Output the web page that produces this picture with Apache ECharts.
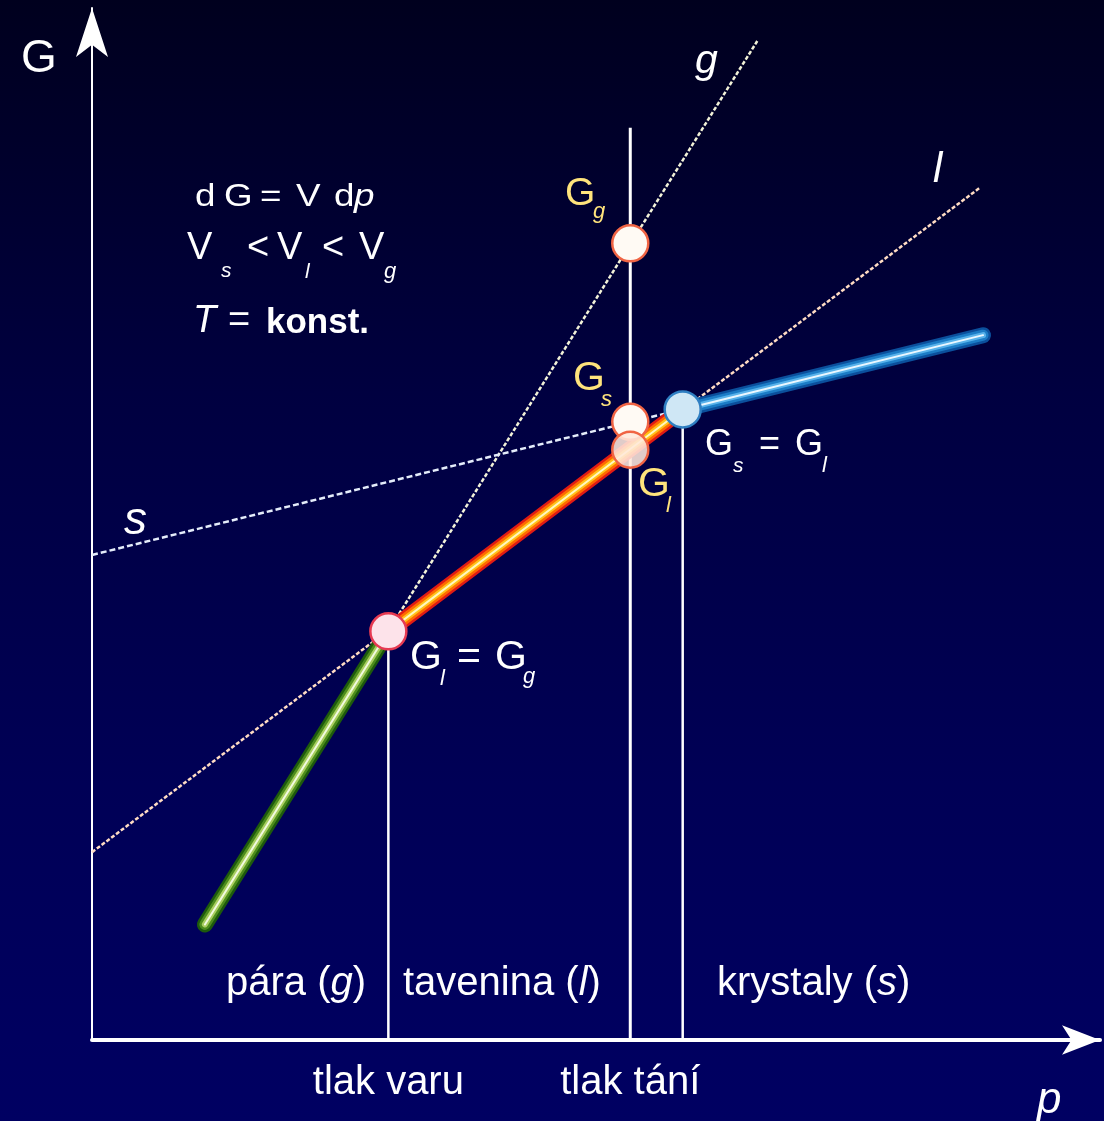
<!DOCTYPE html>
<html>
<head>
<meta charset="utf-8">
<title>G(p) při konstantní teplotě</title>
<script src="https://cdn.jsdelivr.net/npm/echarts@6/dist/echarts.min.js"></script>
<style>
  html, body { margin: 0; padding: 0; background: #000030; }
  #chart { width: 1104px; height: 1121px; }
</style>
</head>
<body>
<div id="chart"></div>
<script>
// Gibbs energy G against pressure p at constant T (arbitrary units, 0..100 on both axes)

// Phase lines G(p): end points [p, G]
const gasG = [[11.2, 11.2], [66.0, 96.8]];
const liquidG = [[0, 18.2], [88.1, 82.6]];
const solidG = [[0, 47.0], [88.4, 68.3]];

// Stable parts of each phase (lowest G)
const gasStable = [[11.2, 11.2], [29.4, 39.6]];
const liquidStable = [[29.4, 39.6], [58.6, 61.1]];
const solidStable = [[58.6, 61.1], [88.4, 68.3]];

// Characteristic pressures and the G values read at them
const boilingP = 29.4;      // tlak varu
const meltingP = 53.4;      // tlak tání
const solidLiquidP = 58.6;  // G_s = G_l
const boilingG = 39.6;      // G_l = G_g
const meltingGg = 77.2;
const meltingGs = 59.9;
const meltingGl = 57.2;
const solidLiquidG = 61.1;
const meltingGuideTop = 88.4;

// Axis tick labels
const pressureMarks = [boilingP, meltingP];
const pressureLabels = ['tlak varu', 'tlak tání'];

const FONT = '"Liberation Sans", Arial, Helvetica, sans-serif';
const WHITE = '#ffffff';
const GOLD = '#ffe47c';

// text piece placed by its left edge and baseline
function txt(x, baseline, text, size, o) {
  o = o || {};
  return {
    type: 'text',
    x: x,
    y: baseline - 0.3465 * size,
    scaleX: o.wide || 1,
    z: 100,
    silent: true,
    style: {
      text: text,
      fill: o.color || WHITE,
      fontSize: size,
      fontFamily: FONT,
      fontStyle: o.italic ? 'italic' : 'normal',
      fontWeight: o.bold ? 'bold' : 'normal',
      align: 'left',
      verticalAlign: 'middle'
    }
  };
}

// region label with an italic phase letter
function regionLabel(x, baseline, before, letter, after) {
  const size = 40;
  const base = { fontSize: size, fontFamily: FONT, fill: WHITE };
  return {
    type: 'text',
    x: x,
    y: baseline - 0.3465 * size,
    z: 100,
    silent: true,
    style: {
      text: '{n|' + before + '}{i|' + letter + '}{n|' + after + '}',
      fontSize: size,
      fontFamily: FONT,
      fill: WHITE,
      align: 'left',
      verticalAlign: 'middle',
      rich: {
        n: Object.assign({}, base),
        i: Object.assign({ fontStyle: 'italic' }, base)
      }
    }
  };
}

const W1 = { wide: 1.15 };
const texts = [
  // axis names
  txt(21, 75, 'G', 46),
  txt(1037, 1116, 'p', 44, { italic: true }),
  // phase line names
  txt(695, 76, 'g', 41, { italic: true }),
  txt(933, 185, 'l', 42, { italic: true }),
  txt(124, 537, 's', 46, { italic: true }),

  // dG = V dp
  txt(195, 208, 'd', 32, W1), txt(224, 208, 'G', 32, W1), txt(260, 208, '=', 32, W1),
  txt(296, 208, 'V', 32, W1), txt(334, 208, 'd', 32, W1),
  txt(354, 208, 'p', 32, { italic: true, wide: 1.15 }),
  // V_s < V_l < V_g
  txt(187, 262, 'V', 38), txt(221, 278, 's', 21, { italic: true }),
  txt(247, 262, '<', 38),
  txt(277, 262, 'V', 38), txt(305, 279, 'l', 21, { italic: true }),
  txt(322, 262, '<', 38),
  txt(359, 262, 'V', 38), txt(384, 279, 'g', 22, { italic: true }),
  // T = konst.
  txt(193, 335, 'T', 38, { italic: true }), txt(228, 335, '=', 38),
  txt(266, 335, 'konst.', 35, { bold: true }),

  // values at the melting pressure
  txt(565, 208, 'G', 39, { color: GOLD }), txt(593, 219, 'g', 22, { color: GOLD, italic: true }),
  txt(573, 393, 'G', 41, { color: GOLD }), txt(601, 407, 's', 22, { color: GOLD, italic: true }),
  txt(638, 499, 'G', 41, { color: GOLD }), txt(666, 513, 'l', 22, { color: GOLD, italic: true }),

  // equilibria
  txt(705, 458, 'G', 36), txt(733, 473, 's', 21, { italic: true }),
  txt(759, 458, '=', 36),
  txt(795, 458, 'G', 36), txt(822, 473, 'l', 22, { italic: true }),

  txt(410, 672, 'G', 41), txt(440, 686, 'l', 22, { italic: true }),
  txt(457, 672, '=', 41),
  txt(495, 672, 'G', 41), txt(523, 684, 'g', 22, { italic: true }),

  // phase regions
  regionLabel(226, 998, 'pára (', 'g', ')'),
  regionLabel(403, 998, 'tavenina (', 'l', ')'),
  regionLabel(717, 998, 'krystaly (', 's', ')')
];

function dotted(data, color, dash, width, z) {
  return {
    type: 'line', data: data, symbol: 'none', silent: true, z: z,
    lineStyle: { color: color, width: width, type: dash }
  };
}

function guide(p, top, width) {
  return {
    type: 'line', data: [[p, 0], [p, top]], symbol: 'none', silent: true, z: 3,
    lineStyle: { color: WHITE, width: width }
  };
}

// thick shaded stroke: several concentric lines, widest first
function glow(data, colors, z) {
  const widths = [16, 11, 6, 2];
  return colors.map(function (c, i) {
    return {
      type: 'line', data: data, symbol: 'none', silent: true, z: z + i,
      lineStyle: { color: c, width: widths[i], cap: 'round' }
    };
  });
}

function marker(points, fill, stroke, z) {
  return {
    type: 'scatter', data: points, symbol: 'circle', symbolSize: 36, silent: true, z: z,
    itemStyle: { color: fill, borderColor: stroke, borderWidth: 2.5, opacity: 1 }
  };
}

const chart = echarts.init(document.getElementById('chart'), null, { renderer: 'canvas' });

const option = {
  animation: false,
  backgroundColor: 'transparent',
  grid: { left: 92, top: 8, right: 4, bottom: 81 },
  xAxis: {
    type: 'value', min: 0, max: 100,
    axisLine: {
      show: true, symbol: ['none', 'arrow'], symbolSize: [22, 38],
      lineStyle: { color: WHITE, width: 4 }
    },
    axisTick: { show: false },
    splitLine: { show: false },
    axisLabel: {
      customValues: pressureMarks,
      formatter: function (v) { return pressureLabels[pressureMarks.indexOf(v)]; },
      color: WHITE, fontSize: 40, fontFamily: FONT, margin: 23
    }
  },
  yAxis: {
    type: 'value', min: 0, max: 100,
    axisLine: {
      show: true, symbol: ['none', 'arrow'], symbolSize: [24, 49],
      lineStyle: { color: WHITE, width: 2 }
    },
    axisTick: { show: false },
    splitLine: { show: false },
    axisLabel: { show: false }
  },
  graphic: [
    {
      type: 'rect', z: -100, silent: true,
      shape: { x: 0, y: 0, width: 1104, height: 1121 },
      style: {
        fill: {
          type: 'linear', x: 0, y: 0, x2: 0, y2: 1,
          colorStops: [
            { offset: 0, color: '#00001e' },
            { offset: 0.35, color: '#000040' },
            { offset: 0.7, color: '#000056' },
            { offset: 1, color: '#000062' }
          ]
        }
      }
    }
  ].concat(texts),
  series: [].concat(
    [
      dotted(gasG, '#f2f2d8', [4, 2], 2.5, 2),
      dotted(liquidG, '#ffdcc4', [4, 2], 2.5, 2),
      dotted(solidG, '#e4ecfa', [6, 3], 2.5, 2),
      guide(boilingP, boilingG, 2.5),
      guide(meltingP, meltingGuideTop, 3),
      guide(solidLiquidP, solidLiquidG, 2.5)
    ],
    glow(gasStable, ['#1d5a0c', '#4c8c1c', '#a8ce60', '#f2fae0'], 4),
    glow(liquidStable, ['#e01b14', '#ff6a00', '#ffc21a', '#fff8c0'], 4),
    glow(solidStable, ['#0b4f9c', '#1c7cc6', '#58b2ea', '#eaf7ff'], 4),
    [
      marker([[boilingP, boilingG]], '#fde3ea', '#e63a52', 10),
      marker([[meltingP, meltingGg], [meltingP, meltingGs]], '#fffaf4', '#f06444', 10),
      marker([[meltingP, meltingGl]], 'rgba(255,232,220,0.88)', '#f06444', 11),
      marker([[solidLiquidP, solidLiquidG]], '#cfe7f5', '#2f7fc2', 11)
    ]
  )
};

chart.setOption(option);
</script>
</body>
</html>
